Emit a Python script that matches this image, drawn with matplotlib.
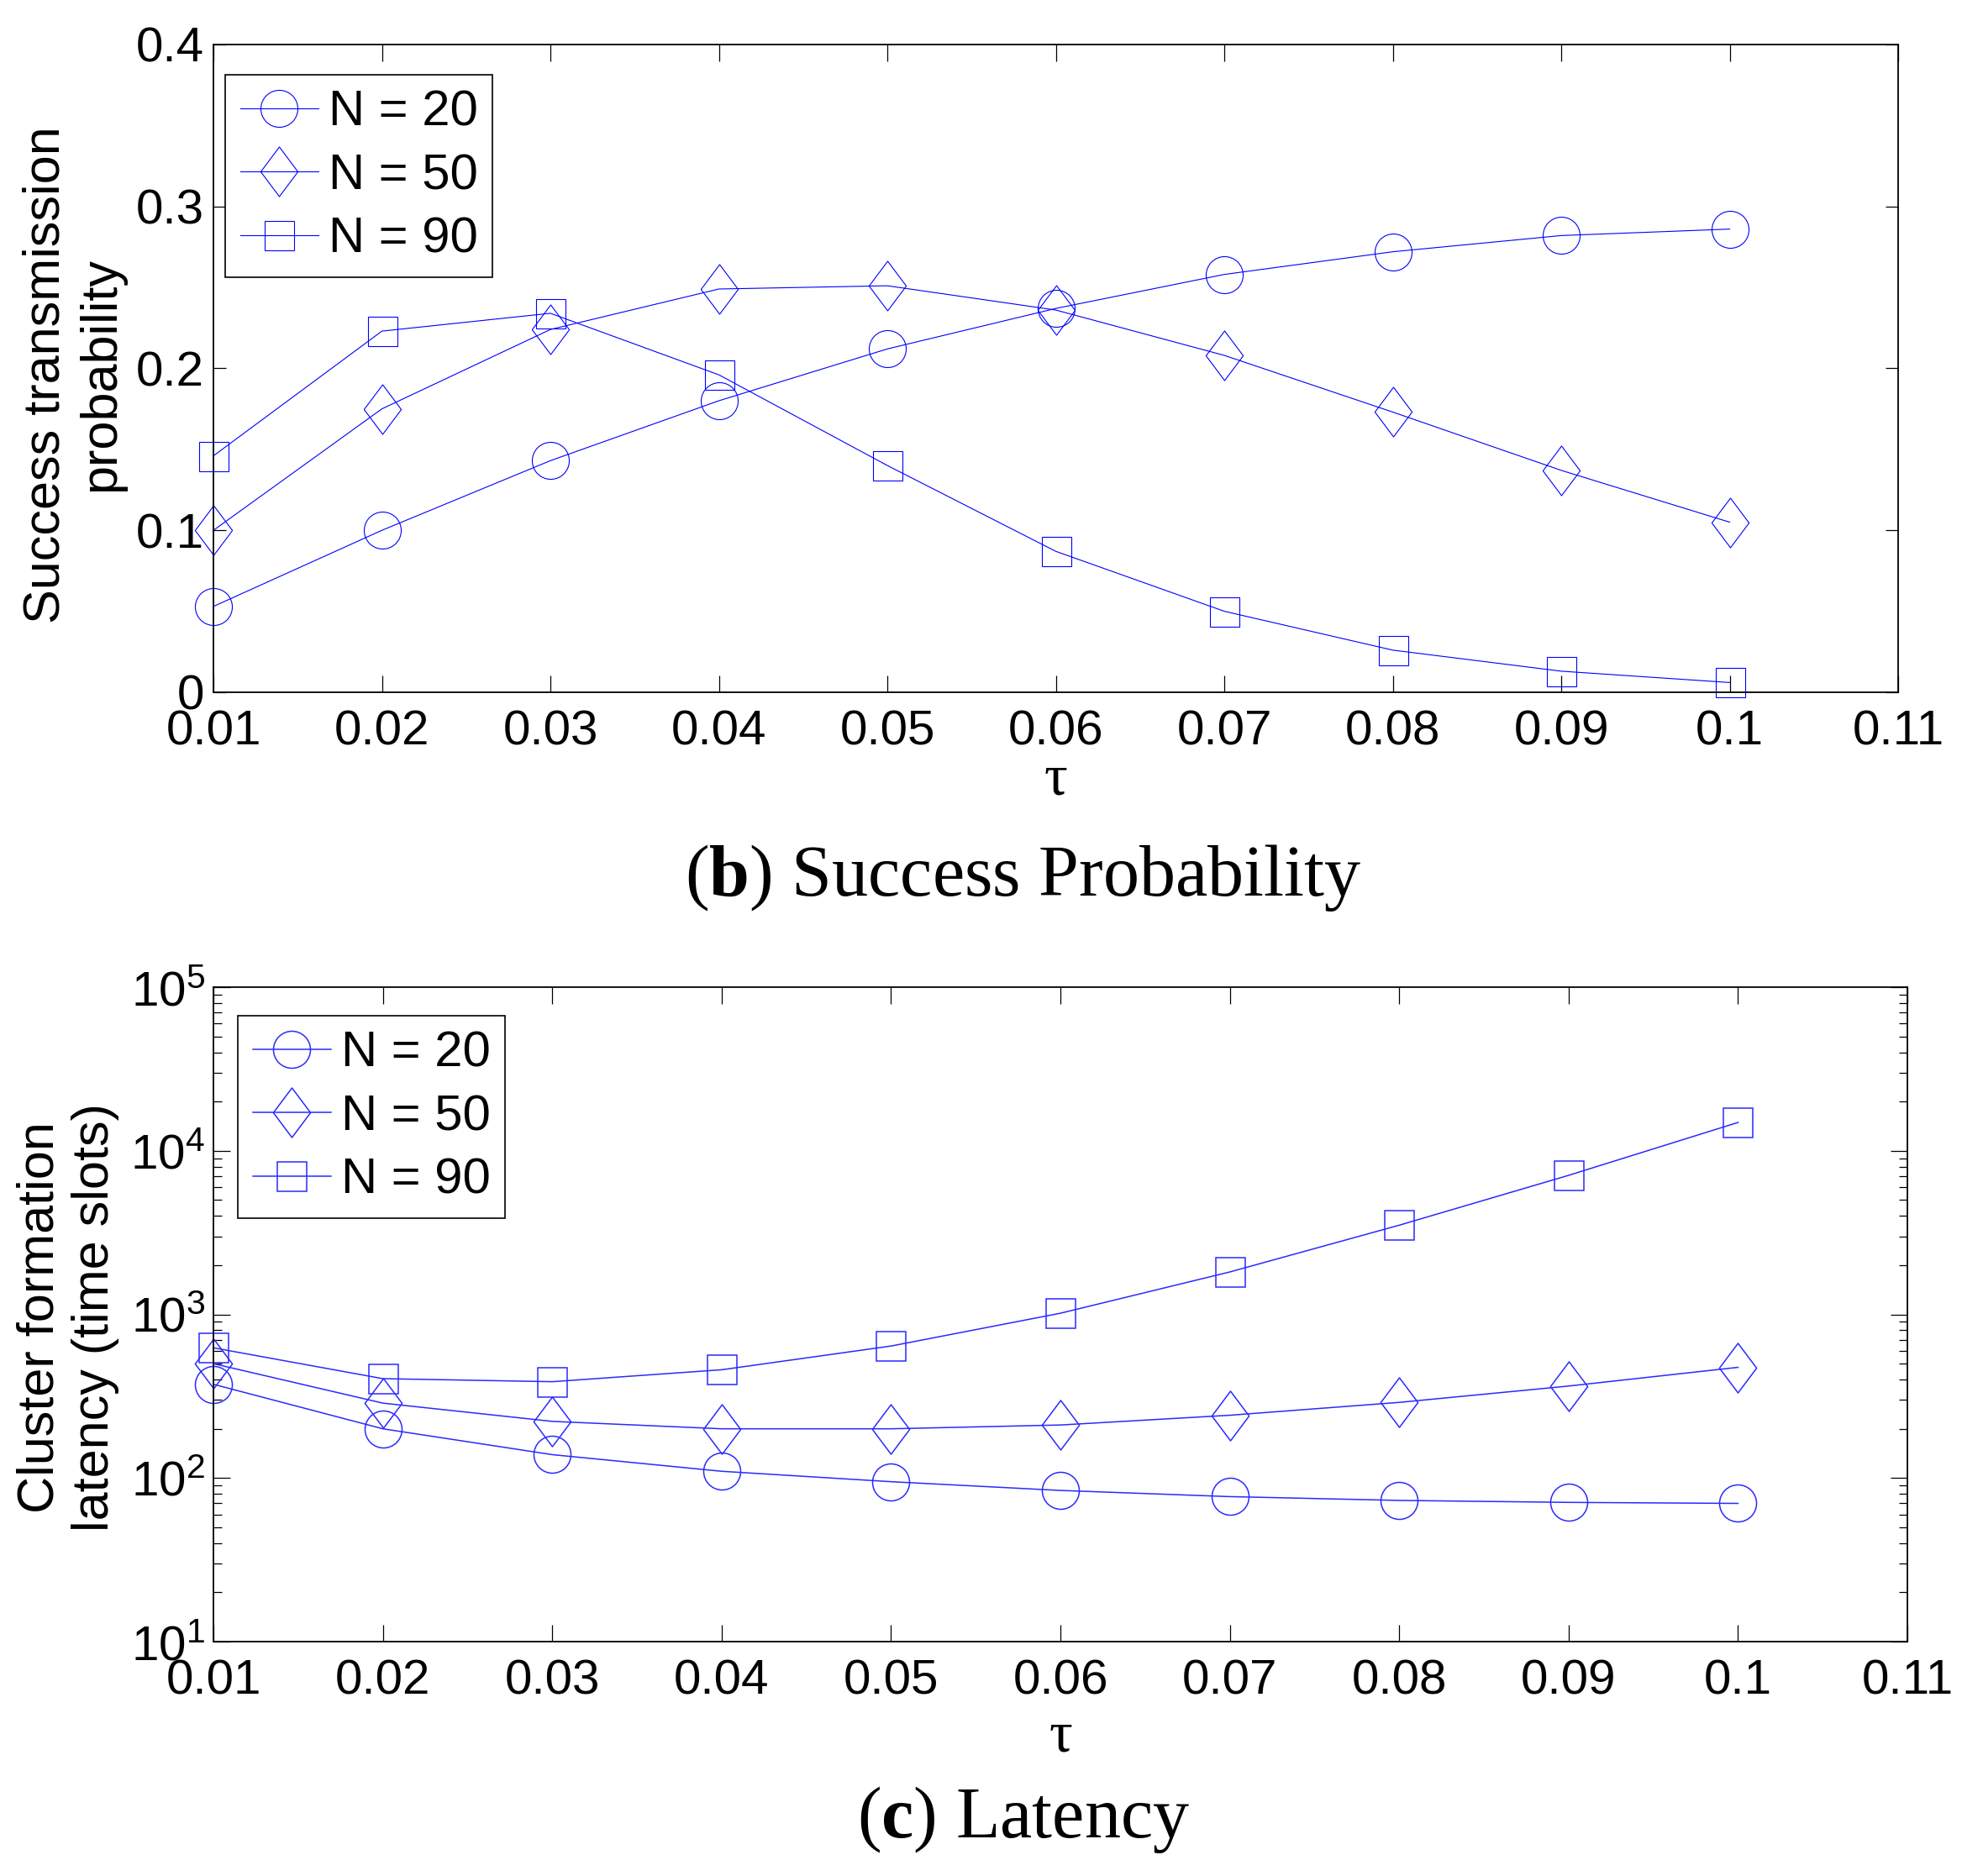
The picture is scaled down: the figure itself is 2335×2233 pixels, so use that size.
import numpy as np
import matplotlib
matplotlib.use("Agg")
from matplotlib import pyplot as plt
from matplotlib.path import Path
from matplotlib.ticker import FixedLocator, FixedFormatter, LogLocator, NullFormatter

plt.rcParams['font.family'] = ['Liberation Sans', 'DejaVu Sans']
plt.rcParams['mathtext.fontset'] = 'custom'
plt.rcParams['mathtext.rm'] = 'Liberation Sans'
plt.rcParams['mathtext.it'] = 'Liberation Sans:italic'
plt.rcParams['mathtext.bf'] = 'Liberation Serif:bold'

# tau values (x axis)
tau = [0.01, 0.02, 0.03, 0.04, 0.05, 0.06, 0.07, 0.08, 0.09, 0.1]
x_ticks = [0.01, 0.02, 0.03, 0.04, 0.05, 0.06, 0.07, 0.08, 0.09, 0.1, 0.11]
x_tick_labels = ["0.01", "0.02", "0.03", "0.04", "0.05", "0.06", "0.07", "0.08", "0.09", "0.1", "0.11"]
series_labels = ["N = 20", "N = 50", "N = 90"]

# (b) success transmission probability
succ_n20 = [0.053, 0.100, 0.143, 0.180, 0.212, 0.237, 0.258, 0.272, 0.282, 0.286]
succ_n50 = [0.100, 0.175, 0.224, 0.249, 0.251, 0.236, 0.208, 0.173, 0.137, 0.105]
succ_n90 = [0.146, 0.223, 0.234, 0.196, 0.140, 0.087, 0.050, 0.026, 0.013, 0.006]
succ_y_ticks = [0, 0.1, 0.2, 0.3, 0.4]
succ_y_labels = ["0", "0.1", "0.2", "0.3", "0.4"]

# (c) cluster formation latency (time slots)
lat_n20 = [374, 200, 139, 110, 95, 84, 77, 73, 71, 70]
lat_n50 = [500, 287, 222, 200, 200, 211, 242, 290, 365, 475]
lat_n90 = [625, 405, 388, 459, 641, 1017, 1818, 3510, 7080, 14900]

# MATLAB-like tall diamond
diamond = Path([(0, 1), (0.75, 0), (0, -1), (-0.75, 0), (0, 1)], closed=True)
markers = [('o', 31.7), (diamond, 42.5), ('s', 25.2)]

fig = plt.figure(figsize=(23.35, 22.33), dpi=100)
ax1 = fig.add_axes([0.1088, 0.6310, 0.9675 - 0.1088, 0.9763 - 0.6310])
ax2 = fig.add_axes([0.1088, 0.1249, 0.9722 - 0.1088, 0.4738 - 0.1249])


def draw_series(ax, data, colour, lw):
    for vals, (m, ms), lab in zip(data, markers, series_labels):
        ax.plot(tau, vals, color=colour, linewidth=lw, marker=m, markersize=ms,
                markerfacecolor='none', markeredgecolor=colour, markeredgewidth=lw,
                label=lab, clip_on=False)


def style_axes(ax):
    ax.set_xlim(0.01, 0.11)
    ax.xaxis.set_major_locator(FixedLocator(x_ticks))
    ax.xaxis.set_major_formatter(FixedFormatter(x_tick_labels))
    for s in ax.spines.values():
        s.set_linewidth(1.3)
    ax.tick_params(axis='x', which='major', direction='in', top=True, bottom=True,
                   length=14.4, width=0.9, labelsize=42, pad=15)
    leg = ax.legend(loc='upper left', fontsize=43, frameon=True, fancybox=False,
                    edgecolor='black', framealpha=1, borderpad=0.3, labelspacing=0.34,
                    handlelength=1.55, handletextpad=0.2, borderaxespad=0, numpoints=1)
    leg.get_frame().set_linewidth(1.2)
    return leg


# top chart
draw_series(ax1, [succ_n20, succ_n50, succ_n90], 'blue', 0.8)
leg1 = style_axes(ax1)
leg1.set_bbox_to_anchor((0.007, 0.9533), transform=ax1.transAxes)
ax1.set_ylim(0, 0.4)
ax1.yaxis.set_major_locator(FixedLocator(succ_y_ticks))
ax1.yaxis.set_major_formatter(FixedFormatter(succ_y_labels))
ax1.tick_params(axis='y', which='major', direction='in', left=True, right=True,
                length=10.8, width=0.9, labelsize=42, pad=8)
ax1.text(0.5, -0.095, "\u03c4", transform=ax1.transAxes, ha='center', va='top',
         fontsize=50, family=['Liberation Serif', 'DejaVu Serif'])
fig.text(0.0377, 0.8003, "Success transmission\nprobability", rotation=90,
         ha='center', va='center', fontsize=44)

# bottom chart
draw_series(ax2, [lat_n20, lat_n50, lat_n90], '#2a2aff', 1.1)
leg2 = style_axes(ax2)
leg2.set_bbox_to_anchor((0.0144, 0.9564), transform=ax2.transAxes)
ax2.set_yscale('log')
ax2.set_ylim(10, 1e5)
ax2.yaxis.set_major_locator(LogLocator(base=10, numticks=10))
ax2.yaxis.set_minor_locator(LogLocator(base=10, subs=np.arange(2, 10), numticks=20))
ax2.yaxis.set_minor_formatter(NullFormatter())
ax2.tick_params(axis='y', which='major', direction='in', left=True, right=True,
                length=14.4, width=0.9, labelsize=42, pad=7)
ax2.tick_params(axis='y', which='minor', direction='in', left=True, right=True,
                length=7.2, width=0.9)
ax2.text(0.5, -0.105, "\u03c4", transform=ax2.transAxes, ha='center', va='top',
         fontsize=50, family=['Liberation Serif', 'DejaVu Serif'])
fig.text(0.0347, 0.2978, "Cluster formation\nlatency (time slots)", rotation=90,
         ha='center', va='center', fontsize=44)

# captions
serif = ['Liberation Serif', 'DejaVu Serif']
fig.text(0.5216, 0.5226, r"($\mathbf{b}$) Success Probability", ha='center', va='baseline',
         fontsize=62, family=serif)
fig.text(0.5216, 0.0206, r"($\mathbf{c}$) Latency", ha='center', va='baseline',
         fontsize=62, family=serif)

fig.savefig("out.png", dpi=100)
